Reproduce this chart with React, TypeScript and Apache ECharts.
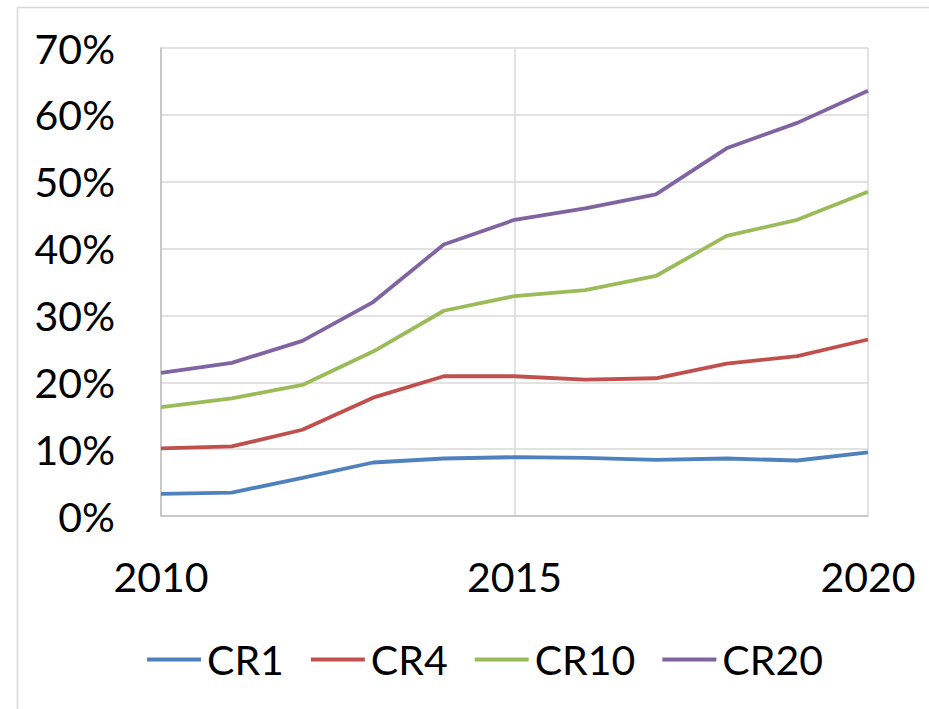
import React, { useEffect, useRef } from "react";
import * as echarts from "echarts";

const years = [2010, 2011, 2012, 2013, 2014, 2015, 2016, 2017, 2018, 2019, 2020];
const cr1 = [3.3, 3.5, 5.7, 8.0, 8.6, 8.8, 8.7, 8.4, 8.6, 8.3, 9.5];
const cr4 = [10.1, 10.4, 12.9, 17.7, 20.9, 20.9, 20.4, 20.6, 22.8, 23.9, 26.4];
const cr10 = [16.3, 17.6, 19.6, 24.6, 30.7, 32.9, 33.8, 35.9, 41.9, 44.3, 48.5];
const cr20 = [21.4, 22.9, 26.2, 32.0, 40.6, 44.3, 46.0, 48.1, 55.0, 58.8, 63.6];
const seriesNames = ["CR1", "CR4", "CR10", "CR20"];
const seriesColors = ["#4F81BD", "#C0504D", "#9BBB59", "#8064A2"];

const FONT = "Lato";

export default function App() {
  const ref = useRef<HTMLDivElement>(null);
  useEffect(() => {
    if (!ref.current) return;
    const chart = echarts.init(ref.current, undefined, { renderer: "svg" });
    const all = [cr1, cr4, cr10, cr20];
    chart.setOption({
      animation: false,
      backgroundColor: "#ffffff",
      textStyle: { fontFamily: FONT },
      graphic: [
        {
          type: "rect",
          left: 15,
          top: 5,
          shape: { width: 1400, height: 1400 },
          style: { fill: "none", stroke: "#d9d9d9", lineWidth: 1.6 },
          silent: true,
          z: -10,
        },
      ],
      grid: { left: 161, right: 61, top: 48, bottom: 193, containLabel: false },
      legend: {
        left: 142,
        top: 634,
        itemWidth: 54,
        itemHeight: 14,
        itemGap: 27,
        textStyle: { fontFamily: FONT, fontSize: 41, color: "#000", padding: [0, 0, 0, 1] },
        data: seriesNames.map((n, i) => ({
          name: n,
          icon: "path://M0,0L54,0L54,3.8L0,3.8Z",
          itemStyle: { color: seriesColors[i] },
        })),
      },
      xAxis: {
        type: "value",
        min: 2010,
        max: 2020,
        interval: 5,
        axisLine: { show: true, lineStyle: { color: "#bfbfbf", width: 1.5 } },
        axisTick: { show: false },
        splitLine: { show: true, lineStyle: { color: "#d9d9d9", width: 1.5 } },
        axisLabel: {
          fontFamily: FONT,
          fontSize: 41,
          color: "#000",
          margin: 40,
          formatter: (v: number) => String(v),
        },
      },
      yAxis: {
        type: "value",
        min: 0,
        max: 70,
        interval: 10,
        axisLine: { show: true, lineStyle: { color: "#bfbfbf", width: 1.5 } },
        axisTick: { show: false },
        splitLine: { show: true, lineStyle: { color: "#d9d9d9", width: 1.5 } },
        axisLabel: {
          fontFamily: FONT,
          fontSize: 41,
          color: "#000",
          margin: 46,
          formatter: "{value}%",
        },
      },
      series: all.map((arr, i) => ({
        name: seriesNames[i],
        type: "line",
        symbol: "none",
        color: seriesColors[i],
        lineStyle: { color: seriesColors[i], width: 3.8 },
        data: years.map((y, j) => [y, arr[j]]),
      })),
    });
    return () => chart.dispose();
  }, []);
  return (
    <div
      ref={ref}
      style={{ position: "absolute", left: 0, top: 0, width: 929, height: 709 }}
    />
  );
}
